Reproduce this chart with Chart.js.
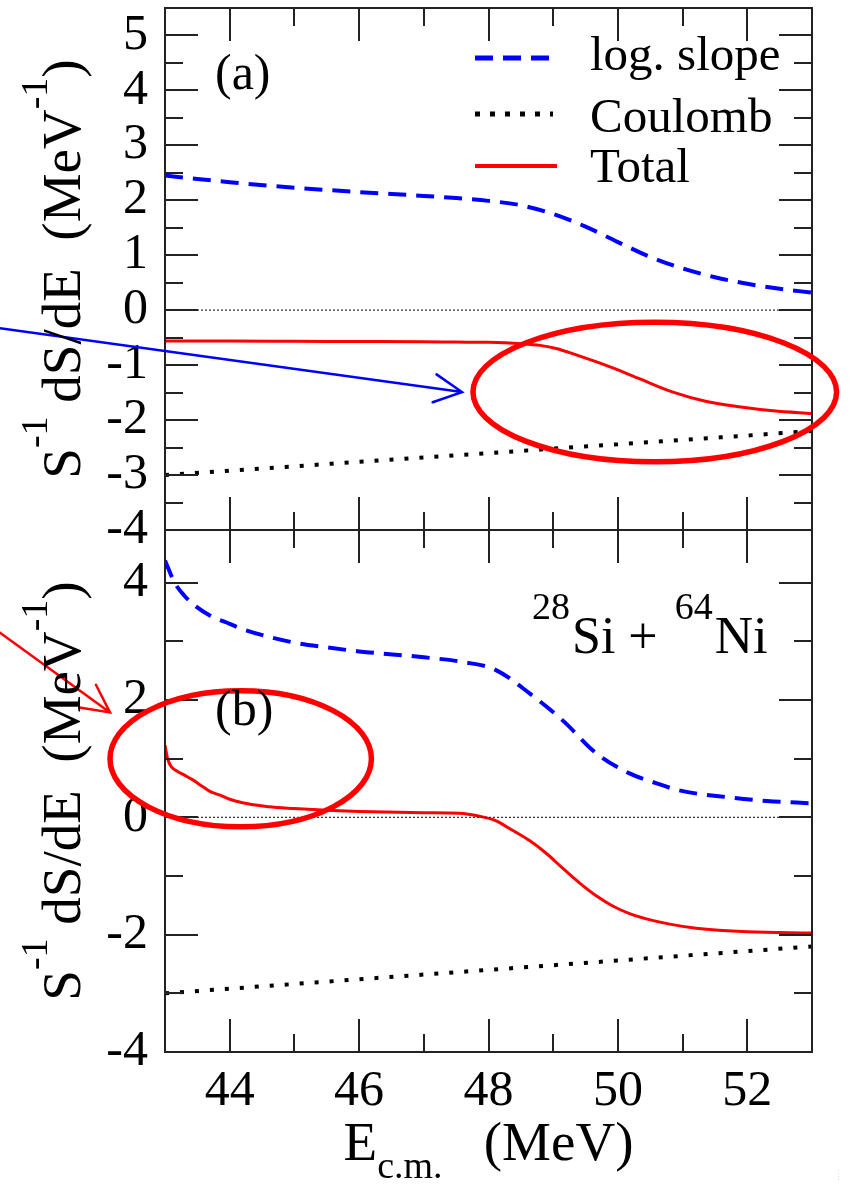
<!DOCTYPE html>
<html><head><meta charset="utf-8">
<style>html,body{margin:0;padding:0;background:#fff}#wrap{width:850px;height:1184px;position:relative;overflow:hidden}canvas{display:block}
.t{position:absolute;font-size:3px;left:838px;color:#000;white-space:nowrap}</style>
<script src="https://cdn.jsdelivr.net/npm/chart.js@4.4.1/dist/chart.umd.min.js"></script>
</head><body><div id="wrap"><canvas id="c" width="850" height="1184"></canvas>
<div class="t" style="top:1168px;font-family:'Liberation Serif'" aria-hidden="true">.</div>
<div class="t" style="top:1171px;font-family:'DejaVu Serif'" aria-hidden="true">.</div>
<div class="t" style="top:1174px;font-family:'Times New Roman'" aria-hidden="true">.</div>
<div class="t" style="top:1177px;font-family:serif" aria-hidden="true">.</div>
</div>
<script>
// ---------- data ----------
const X_TICKS = [44, 46, 48, 50, 52];
const X_MINOR = [45, 47, 49, 51];
const A_Y_TICKS = [-4, -3, -2, -1, 0, 1, 2, 3, 4, 5];
const A_Y_MINOR = [-3.5, -2.5, -1.5, -0.5, 0.5, 1.5, 2.5, 3.5, 4.5];
const B_Y_TICKS = [-4, -2, 0, 2, 4];
const B_Y_MINOR = [-3, -1, 1, 3];

const ZERO_X = [43, 53];
const ZERO_Y = [0, 0];

const C_X = [43, 44, 45, 46, 47, 48, 49, 50, 51, 52, 53];
const A_COUL_Y = [-3.0, -2.92, -2.84, -2.76, -2.68, -2.6, -2.52, -2.44, -2.36, -2.28, -2.2];
const B_COUL_Y = [-3.0, -2.92, -2.84, -2.76, -2.68, -2.6, -2.52, -2.44, -2.36, -2.28, -2.2];

const A_LOG_X = [43, 43.5, 44, 45, 46, 47, 47.5, 48, 48.5, 49, 49.5, 50, 50.5, 51, 51.5, 52, 52.5, 53];
const A_LOG_Y = [2.45, 2.39, 2.33, 2.23, 2.15, 2.08, 2.04, 1.99, 1.91, 1.75, 1.52, 1.24, 0.97, 0.76, 0.60, 0.48, 0.39, 0.32];

const A_TOT_X = [43, 44, 45, 46, 47, 47.5, 48, 48.5, 48.8, 49.06, 49.3, 49.57, 49.92, 50.34, 50.85, 51.37, 51.9, 52.4, 53];
const A_TOT_Y = [-0.56, -0.56, -0.565, -0.57, -0.575, -0.58, -0.585, -0.61, -0.64, -0.70, -0.79, -0.90, -1.05, -1.25, -1.49, -1.66, -1.76, -1.83, -1.88];

const B_LOG_X = [43, 43.15, 43.3, 43.43, 43.7, 44.0, 44.2, 44.6, 45, 45.5, 46, 47, 47.6, 48.1, 48.64, 49.15, 49.67, 50.18, 50.6, 50.95, 51.73, 52.3, 53];
const B_LOG_Y = [4.38, 4.0, 3.78, 3.64, 3.44, 3.3, 3.21, 3.08, 2.98, 2.9, 2.83, 2.73, 2.65, 2.52, 2.11, 1.65, 1.09, 0.75, 0.58, 0.46, 0.34, 0.28, 0.24];

const B_TOT_X = [43, 43.04, 43.1, 43.2, 43.3, 43.43, 43.55, 43.7, 43.85, 44.0, 44.2, 44.4, 44.6, 45, 45.5, 46, 47, 47.55, 47.86, 48.1, 48.37, 48.64, 48.9, 49.15, 49.41, 49.67, 49.92, 50.18, 50.44, 50.8, 51.21, 52, 53];
const B_TOT_Y = [1.23, 1.0, 0.86, 0.78, 0.72, 0.64, 0.55, 0.44, 0.38, 0.31, 0.25, 0.21, 0.18, 0.15, 0.12, 0.1, 0.08, 0.07, 0.02, -0.05, -0.22, -0.40, -0.62, -0.87, -1.12, -1.34, -1.51, -1.64, -1.73, -1.82, -1.89, -1.95, -1.97];

const LEGEND_LABELS = ['log. slope', 'Coulomb', 'Total'];

// annotation geometry in data units
const ELLIPSE_A = {axis: 'yA', cx: 50.57, cy: -1.49, rx: 2.81, ry: 1.27};
const ELLIPSE_B = {axis: 'yB', cx: 44.17, cy: 1.0, rx: 2.02, ry: 1.16};
const ARROW_A = {axis: 'yA', x0: 40.45, y0: -0.33, x1: 47.59, y1: -1.49, color: '#0000ff'};
const ARROW_B = {axis: 'yB', x0: 40.45, y0: 3.15, x1: 42.15, y1: 1.79, color: '#ff0000'};

// ---------- styling ----------
const FONT = 'Liberation Serif, "DejaVu Serif", serif';
const BLUE = '#0000ff', RED = '#ff0000', BLACK = '#000000';
const DASH_BLUE = [18, 10], DOT = [4, 11], ZDOT = [2, 2];

function pts(xs, ys) { return xs.map((x, i) => ({x: x, y: ys[i]})); }

function line(data, axis, color, width, dash) {
  return {data: data, yAxisID: axis, borderColor: color, borderWidth: width, borderDash: dash || [],
    pointRadius: 0, fill: false, cubicInterpolationMode: 'monotone', borderCapStyle: 'butt'};
}

const datasets = [
  line(pts(ZERO_X, ZERO_Y), 'yA', '#333', 1.2, ZDOT),
  line(pts(C_X, A_COUL_Y), 'yA', BLACK, 4, DOT),
  line(pts(A_LOG_X, A_LOG_Y), 'yA', BLUE, 4, DASH_BLUE),
  line(pts(A_TOT_X, A_TOT_Y), 'yA', RED, 3),
  line(pts(ZERO_X, ZERO_Y), 'yB', '#333', 1.2, ZDOT),
  line(pts(C_X, B_COUL_Y), 'yB', BLACK, 4, DOT),
  line(pts(B_LOG_X, B_LOG_Y), 'yB', BLUE, 4, DASH_BLUE),
  line(pts(B_TOT_X, B_TOT_Y), 'yB', RED, 3)
];

const MAJ = 33, MIN = 18;

const framePlugin = {
  id: 'frame',
  afterDatasetsDraw(chart) {
    const ctx = chart.ctx, xs = chart.scales.x, ca = chart.chartArea;
    [['yA', A_Y_TICKS, A_Y_MINOR], ['yB', B_Y_TICKS, B_Y_MINOR]].forEach(([id, maj, mnr]) => {
      const ys = chart.scales[id];
      const t = ys.top, b = ys.bottom, l = ca.left, r = ca.right;
      ctx.save();
      ctx.strokeStyle = '#222'; ctx.lineWidth = 2; ctx.setLineDash([]);
      ctx.strokeRect(l, t, r - l, b - t);
      ctx.beginPath();
      const hy = (v, len) => { const y = Math.round(ys.getPixelForValue(v)); ctx.moveTo(l, y); ctx.lineTo(l + len, y); ctx.moveTo(r, y); ctx.lineTo(r - len, y); };
      const vx = (v, len) => { const x = Math.round(xs.getPixelForValue(v)); ctx.moveTo(x, t); ctx.lineTo(x, t + len); ctx.moveTo(x, b); ctx.lineTo(x, b - len); };
      maj.forEach(v => hy(v, MAJ)); mnr.forEach(v => hy(v, MIN));
      X_TICKS.forEach(v => vx(v, MAJ)); X_MINOR.forEach(v => vx(v, MIN));
      ctx.stroke();
      ctx.restore();
    });
  }
};

function drawRich(ctx, parts, x, y) {
  let cx = x;
  parts.forEach(p => {
    ctx.font = p.size + 'px ' + FONT;
    cx += (p.gap || 0);
    ctx.fillText(p.t, cx, y + (p.dy || 0));
    cx += ctx.measureText(p.t).width;
  });
}
function richWidth(ctx, parts) {
  let w = 0;
  parts.forEach(p => { ctx.font = p.size + 'px ' + FONT; w += ctx.measureText(p.t).width + (p.gap || 0); });
  return w;
}

const TITLE = 55, SUP = 38;
const Y_TITLE = [
  {t: 'S', size: TITLE}, {t: '-1', size: SUP, dy: -33}, {t: ' dS/dE  (MeV', size: TITLE},
  {t: '-1', size: SUP, dy: -33}, {t: ')', size: TITLE}
];
const X_TITLE = [
  {t: 'E', size: TITLE}, {t: 'c.m.', size: SUP, dy: 18}, {t: '   (MeV)', size: TITLE}
];
const SYSTEM = [
  {t: '28', size: SUP, dy: -34}, {t: 'Si + ', size: 52, gap: 2}, {t: '64', size: SUP, dy: -34, gap: 4}, {t: 'Ni', size: 53, gap: 2}
];

const textPlugin = {
  id: 'texts',
  afterDraw(chart) {
    const ctx = chart.ctx, ca = chart.chartArea;
    const yA = chart.scales.yA, yB = chart.scales.yB;
    ctx.save();
    ctx.fillStyle = '#000'; ctx.textBaseline = 'alphabetic'; ctx.textAlign = 'left';
    [yA, yB].forEach(s => {
      const cy = (s.top + s.bottom) / 2;
      const w = richWidth(ctx, Y_TITLE);
      ctx.save();
      ctx.translate(80, cy);
      ctx.rotate(-Math.PI / 2);
      drawRich(ctx, Y_TITLE, -w / 2, 0);
      ctx.restore();
    });
    const wx = richWidth(ctx, X_TITLE);
    drawRich(ctx, X_TITLE, (ca.left + ca.right) / 2 - wx / 2, 1160);
    ctx.font = '50px ' + FONT;
    ctx.fillText('(a)', ca.left + 50, yA.top + 81);
    ctx.fillText('(b)', ca.left + 50, yB.top + 195);
    drawRich(ctx, SYSTEM, ca.right - 280, yB.top + 123);
    const lx0 = ca.right - 337, lx1 = ca.right - 259, tx = ca.right - 222;
    const rows = [
      {y: ca.top + 50, by: ca.top + 62, color: BLUE, w: 5, dash: DASH_BLUE, end: 0},
      {y: ca.top + 106, by: ca.top + 124, color: BLACK, w: 5, dash: [5, 10], end: 0},
      {y: ca.top + 158, by: ca.top + 174, color: RED, w: 4, dash: [], end: 4}
    ];
    rows.forEach((r, i) => {
      ctx.save();
      ctx.strokeStyle = r.color; ctx.lineWidth = r.w; ctx.setLineDash(r.dash); ctx.lineCap = 'butt';
      ctx.beginPath(); ctx.moveTo(lx0, r.y); ctx.lineTo(lx1 + r.end, r.y); ctx.stroke();
      ctx.restore();
      ctx.font = '49px ' + FONT;
      ctx.fillText(LEGEND_LABELS[i], tx, r.by);
    });
    ctx.restore();
  }
};

const annotPlugin = {
  id: 'annot',
  afterDraw(chart) {
    const ctx = chart.ctx, xs = chart.scales.x;
    ctx.save();
    [ELLIPSE_A, ELLIPSE_B].forEach(e => {
      const ys = chart.scales[e.axis];
      const cx = xs.getPixelForValue(e.cx), cy = ys.getPixelForValue(e.cy);
      const rx = Math.abs(xs.getPixelForValue(e.cx + e.rx) - cx);
      const ry = Math.abs(ys.getPixelForValue(e.cy + e.ry) - cy);
      ctx.beginPath(); ctx.ellipse(cx, cy, rx, ry, 0, 0, Math.PI * 2);
      ctx.strokeStyle = RED; ctx.lineWidth = 5.5; ctx.setLineDash([]); ctx.stroke();
    });
    [ARROW_A, ARROW_B].forEach(a => {
      const ys = chart.scales[a.axis];
      const x0 = xs.getPixelForValue(a.x0), y0 = ys.getPixelForValue(a.y0);
      const x1 = xs.getPixelForValue(a.x1), y1 = ys.getPixelForValue(a.y1);
      const ang = Math.atan2(y1 - y0, x1 - x0);
      const L = 31, sp = 27 * Math.PI / 180;
      ctx.strokeStyle = a.color; ctx.lineWidth = 2.5; ctx.lineCap = 'round';
      ctx.beginPath();
      ctx.moveTo(x0, y0); ctx.lineTo(x1, y1);
      ctx.moveTo(x1 - L * Math.cos(ang - sp), y1 - L * Math.sin(ang - sp)); ctx.lineTo(x1, y1);
      ctx.lineTo(x1 - L * Math.cos(ang + sp), y1 - L * Math.sin(ang + sp));
      ctx.stroke();
    });
    ctx.restore();
  }
};

const tickFont = {family: FONT, size: 50};
function noPad(s) { s.paddingTop = 0; s.paddingBottom = 0; s.paddingLeft = 0; s.paddingRight = 0; }
function yScale(min, max, ticks, weight) {
  return {
    type: 'linear', position: 'left', stack: 'panels', stackWeight: 1, weight: weight,
    min: min, max: max,
    afterBuildTicks: s => { s.ticks = ticks.map(v => ({value: v})); },
    afterFit: s => { s.width = 165; noPad(s); },
    grid: {display: false, drawTicks: false}, border: {display: false},
    ticks: {font: tickFont, color: '#000', padding: 17, autoSkip: false, callback: v => String(v)}
  };
}

function build() {
  new Chart(document.getElementById('c'), {
    type: 'line',
    data: {datasets: datasets},
    options: {
      responsive: false, animation: false, devicePixelRatio: 1,
      layout: {padding: {top: 8, right: 38, left: 0, bottom: 0}},
      plugins: {legend: {display: false}, tooltip: {enabled: false}},
      scales: {
        x: {
          type: 'linear', position: 'bottom', min: 43, max: 53,
          afterBuildTicks: s => { s.ticks = X_TICKS.map(v => ({value: v})); },
          afterFit: s => { s.height = 132; noPad(s); },
          grid: {display: false, drawTicks: false}, border: {display: false},
          ticks: {font: tickFont, color: '#000', padding: 10, maxRotation: 0, autoSkip: false, callback: v => String(v)}
        },
        yA: yScale(-4, 5.5, A_Y_TICKS, 2),
        yB: yScale(-4, 4.9, B_Y_TICKS, 1)
      }
    },
    plugins: [framePlugin, annotPlugin, textPlugin]
  });
}
if (document.fonts && document.fonts.load) {
  Promise.all([document.fonts.load('50px "Liberation Serif"'), document.fonts.load('50px "DejaVu Serif"')]).then(build, build);
} else { build(); }
</script>
</body></html>
